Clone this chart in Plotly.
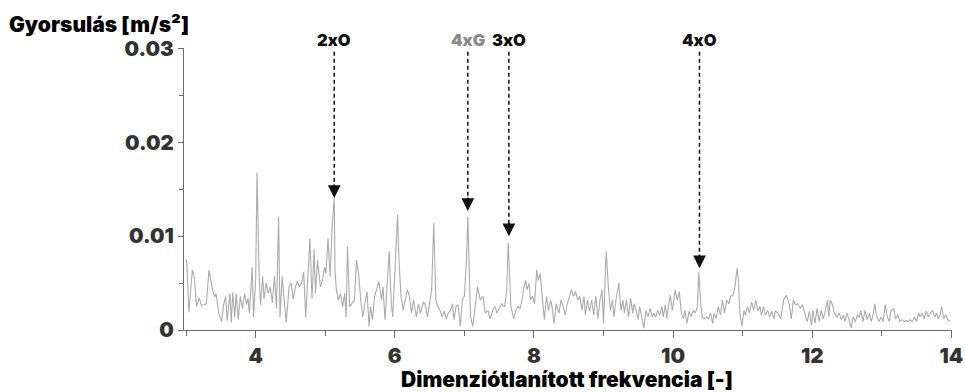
import plotly.graph_objects as go

# ---------------- data ----------------
freq_a = [3.00, 3.01, 3.04, 3.09, 3.12, 3.15, 3.19, 3.22, 3.29, 3.33,
          3.38, 3.41, 3.43, 3.47, 3.51, 3.54, 3.57, 3.59, 3.63, 3.65,
          3.67, 3.70, 3.72, 3.75, 3.78, 3.81, 3.84, 3.87, 3.89, 3.91,
          3.95, 3.97, 4.00, 4.02, 4.05, 4.07, 4.10, 4.12, 4.15, 4.18,
          4.21, 4.24, 4.27, 4.30, 4.33, 4.35, 4.38, 4.42, 4.44, 4.48,
          4.51, 4.54, 4.57, 4.60, 4.63, 4.66, 4.69, 4.72, 4.75, 4.78,
          4.81, 4.84, 4.86, 4.89, 4.93, 4.96, 4.99, 5.01, 5.04, 5.07]
acc_a = [.0075, .0072, .0019, .0064, .0055, .0025, .0034, .0026, .0028, .0064,
         .0043, .0035, .0039, .0018, .0009, .0027, .0036, .0010, .0039, .0008,
         .0040, .0014, .0039, .0011, .0036, .0023, .0039, .0027, .0034, .0018,
         .0067, .0014, .0053, .0168, .0057, .0027, .0057, .0033, .0050, .0039,
         .0046, .0029, .0057, .0023, .0121, .0014, .0057, .0027, .0008, .0046,
         .0050, .0033, .0046, .0052, .0046, .0050, .0062, .0014, .0053, .0098,
         .0033, .0086, .0039, .0075, .0046, .0053, .0067, .0060, .0098, .0057]

freq_b = [5.10, 5.13, 5.14, 5.16, 5.19, 5.22, 5.25, 5.28, 5.30, 5.32,
          5.35, 5.38, 5.42, 5.45, 5.48, 5.51, 5.54, 5.57, 5.60, 5.63,
          5.65, 5.68, 5.71, 5.75, 5.77, 5.81, 5.83, 5.86, 5.89, 5.92,
          5.95, 5.97, 6.00, 6.04, 6.06, 6.09, 6.12, 6.15, 6.18, 6.21,
          6.24, 6.27, 6.31, 6.34, 6.37, 6.41, 6.44, 6.47, 6.50, 6.53,
          6.56, 6.59, 6.62, 6.65, 6.68, 6.71, 6.74, 6.77, 6.80, 6.83,
          6.85, 6.88, 6.91, 6.94, 6.97, 7.00, 7.03, 7.05, 7.07, 7.09,
          7.12, 7.16, 7.19]
acc_b = [.0110, .0142, .0064, .0043, .0032, .0039, .0025, .0039, .0014, .0089,
         .0025, .0028, .0032, .0075, .0060, .0032, .0014, .0028, .0041, .0004,
         .0025, .0011, .0036, .0046, .0052, .0032, .0046, .0011, .0043, .0084,
         .0028, .0014, .0060, .0123, .0075, .0036, .0021, .0032, .0043, .0036,
         .0018, .0032, .0014, .0028, .0018, .0030, .0027, .0014, .0028, .0043,
         .0114, .0032, .0025, .0021, .0014, .0020, .0012, .0018, .0021, .0028,
         .0011, .0025, .0027, .0004, .0032, .0036, .0075, .0121, .0064, .0014,
         .0004, .0025, .0046]

freq_c = [7.23, 7.27, 7.30, 7.34, 7.37, 7.41, 7.44, 7.47, 7.50, 7.54,
          7.58, 7.61, 7.63, 7.65, 7.67, 7.71, 7.74, 7.77, 7.80, 7.83,
          7.85, 7.88, 7.90, 7.93, 7.95, 7.98, 8.01, 8.04, 8.06, 8.09,
          8.12, 8.15, 8.18, 8.21, 8.24, 8.26, 8.29, 8.32, 8.36, 8.39,
          8.42, 8.45, 8.48, 8.51, 8.54, 8.57, 8.60, 8.63, 8.66, 8.69,
          8.72, 8.74, 8.77, 8.80, 8.83, 8.86, 8.89, 8.92, 8.95, 8.98,
          9.00, 9.03, 9.04, 9.07, 9.10, 9.13, 9.15, 9.18, 9.22, 9.25,
          9.28]
acc_c = [.0032, .0036, .0018, .0021, .0012, .0021, .0025, .0018, .0023, .0028,
         .0025, .0043, .0093, .0050, .0025, .0012, .0021, .0025, .0023, .0032,
         .0043, .0053, .0043, .0050, .0032, .0036, .0028, .0064, .0053, .0060,
         .0036, .0011, .0036, .0021, .0032, .0025, .0007, .0028, .0018, .0032,
         .0025, .0016, .0028, .0036, .0043, .0036, .0041, .0032, .0036, .0021,
         .0036, .0016, .0032, .0020, .0032, .0016, .0036, .0012, .0032, .0043,
         .0007, .0068, .0084, .0046, .0021, .0032, .0014, .0032, .0050, .0021,
         .0032]

freq_d = [9.30, 9.33, 9.36, 9.39, 9.42, 9.44, 9.47, 9.50, 9.52, 9.55,
          9.58, 9.61, 9.64, 9.67, 9.70, 9.72, 9.75, 9.78, 9.81, 9.84,
          9.86, 9.89, 9.91, 9.94, 9.96, 9.99, 10.01, 10.03, 10.06, 10.09,
          10.12, 10.15, 10.17, 10.20, 10.23, 10.26, 10.29, 10.32, 10.35, 10.37,
          10.40, 10.42, 10.45, 10.48, 10.51, 10.54, 10.57, 10.59, 10.62, 10.65,
          10.68, 10.71, 10.74, 10.77, 10.80, 10.83, 10.86, 10.89, 10.92, 10.94,
          10.96, 10.99, 11.02, 11.04, 11.07, 11.10, 11.13, 11.16, 11.19, 11.22,
          11.25, 11.27, 11.30, 11.33, 11.36, 11.39, 11.42, 11.45, 11.47, 11.51,
          11.55]
acc_d = [.0018, .0032, .0014, .0034, .0018, .0028, .0021, .0011, .0025, .0014,
         .0002, .0021, .0014, .0023, .0014, .0018, .0014, .0021, .0016, .0025,
         .0014, .0027, .0012, .0028, .0037, .0021, .0036, .0043, .0032, .0041,
         .0018, .0012, .0021, .0007, .0020, .0014, .0021, .0018, .0025, .0062,
         .0025, .0014, .0012, .0014, .0012, .0018, .0007, .0018, .0012, .0025,
         .0016, .0032, .0018, .0032, .0028, .0036, .0037, .0046, .0066, .0053,
         .0018, .0004, .0021, .0016, .0025, .0018, .0030, .0021, .0032, .0020,
         .0025, .0016, .0025, .0016, .0021, .0014, .0020, .0012, .0020, .0018,
         .0012]

freq_e = [11.59, 11.63, 11.67, 11.70, 11.73, 11.76, 11.79, 11.83, 11.86, 11.90,
          11.93, 11.96, 11.99, 12.01, 12.04, 12.07, 12.10, 12.13, 12.16, 12.19,
          12.22, 12.24, 12.26, 12.29, 12.32, 12.36, 12.39, 12.42, 12.45, 12.47,
          12.50, 12.53, 12.56, 12.59, 12.62, 12.65, 12.68, 12.70, 12.73, 12.76,
          12.79, 12.82, 12.85, 12.88, 12.90, 12.93, 12.96, 12.99, 13.02, 13.05,
          13.08, 13.11, 13.13, 13.17, 13.20, 13.23, 13.26, 13.29, 13.32, 13.35,
          13.38, 13.41, 13.44, 13.47, 13.50, 13.53, 13.55, 13.58, 13.61, 13.64,
          13.67, 13.70, 13.73, 13.76, 13.79, 13.81, 13.84, 13.86, 13.89, 13.92,
          13.95, 13.98]
acc_e = [.0032, .0037, .0028, .0012, .0032, .0027, .0028, .0023, .0027, .0016,
         .0009, .0020, .0005, .0021, .0007, .0023, .0009, .0021, .0012, .0021,
         .0032, .0014, .0032, .0027, .0018, .0014, .0018, .0011, .0016, .0009,
         .0018, .0011, .0002, .0014, .0009, .0016, .0014, .0021, .0009, .0021,
         .0011, .0018, .0009, .0018, .0028, .0014, .0009, .0014, .0009, .0027,
         .0014, .0009, .0020, .0023, .0012, .0016, .0009, .0011, .0009, .0010,
         .0009, .0011, .0009, .0014, .0009, .0018, .0014, .0018, .0012, .0020,
         .0014, .0018, .0021, .0014, .0018, .0012, .0016, .0025, .0012, .0016,
         .0011, .0009]

freq = freq_a + freq_b + freq_c + freq_d + freq_e
accel = acc_a + acc_b + acc_c + acc_d + acc_e

# order markers
ann_labels = ["2xO", "4xG", "3xO", "4xO"]
ann_freq = [5.13, 7.05, 7.64, 10.38]
ann_tip = [0.0141, 0.0127, 0.0100, 0.0066]
ann_colors = ["#111111", "#8a8a8a", "#111111", "#111111"]
label_level = 1.028     # paper units, just above the plot area
dash_top = 0.0297
head_len = 0.0016

y_ticks = [0, 0.01, 0.02, 0.03]
y_ticktext = ["0", "0.01", "0.02", "0.03"]
x_ticks = [4, 6, 8, 10, 12, 14]

FONT = "Inter"
W = 900
AXIS_COL = "#6e6e6e"

fig = go.Figure()
fig.add_trace(go.Scatter(x=freq, y=accel, mode="lines",
                         line=dict(color="#ababab", width=1.1),
                         hoverinfo="skip", showlegend=False))

for lab, xf, tip, col in zip(ann_labels, ann_freq, ann_tip, ann_colors):
    fig.add_shape(type="line", xref="x", yref="y", x0=xf, x1=xf,
                  y0=dash_top, y1=tip + head_len * 0.6,
                  line=dict(color="#111111", width=1.5, dash="4px,3px"))
    fig.add_annotation(x=xf, y=tip, ax=xf, ay=tip + head_len,
                       axref="x", ayref="y", xref="x", yref="y",
                       text="", showarrow=True, arrowhead=2,
                       arrowsize=1.7, arrowwidth=1.5, arrowcolor="#111111")
    fig.add_annotation(x=xf, y=label_level, xref="x", yref="paper",
                       text=lab, showarrow=False, yanchor="middle",
                       font=dict(family=FONT, size=16.5, color=col, weight=W))

fig.add_annotation(xref="paper", yref="paper", x=-0.231, y=1.084,
                   xanchor="left", yanchor="middle", showarrow=False,
                   text="Gyorsulás [m/s²]",
                   font=dict(family=FONT, size=21, color="#000000", weight=W))
fig.add_annotation(xref="paper", yref="paper", x=0.499, y=-0.176,
                   xanchor="center", yanchor="middle", showarrow=False,
                   text="Dimenziótlanított frekvencia [-]",
                   font=dict(family=FONT, size=21, color="#000000", weight=W))

fig.update_xaxes(range=[2.97, 14.01], showgrid=False, zeroline=False,
                 automargin=False,
                 showline=True, linecolor=AXIS_COL, linewidth=1.3,
                 ticks="outside", ticklen=7, tickcolor=AXIS_COL, tickwidth=1.3,
                 tickvals=x_ticks,
                 tickfont=dict(family=FONT, size=20.5, color="#333333", weight=W),
                 minor=dict(dtick=1, tick0=0, ticks="outside", ticklen=5,
                            tickcolor=AXIS_COL, tickwidth=1.3))
fig.update_yaxes(range=[0, 0.0301], showgrid=False, zeroline=False,
                 automargin=False,
                 showline=True, linecolor=AXIS_COL, linewidth=1.3,
                 ticks="outside", ticklen=5, tickcolor=AXIS_COL, tickwidth=1.3,
                 tickvals=y_ticks, ticktext=y_ticktext,
                 tickfont=dict(family=FONT, size=20.5, color="#333333", weight=W),
                 minor=dict(dtick=0.005, tick0=0, ticks="outside", ticklen=4,
                            tickcolor=AXIS_COL, tickwidth=1.2))

fig.update_layout(width=965, height=392, plot_bgcolor="white", paper_bgcolor="white",
                  margin=dict(l=184, r=13, t=48, b=62, autoexpand=False),
                  showlegend=False)

fig.write_html("out.html", config={"responsive": False, "displayModeBar": False},
               post_script="document.body.style.margin='0';"
                           "document.body.style.overflow='hidden';")
